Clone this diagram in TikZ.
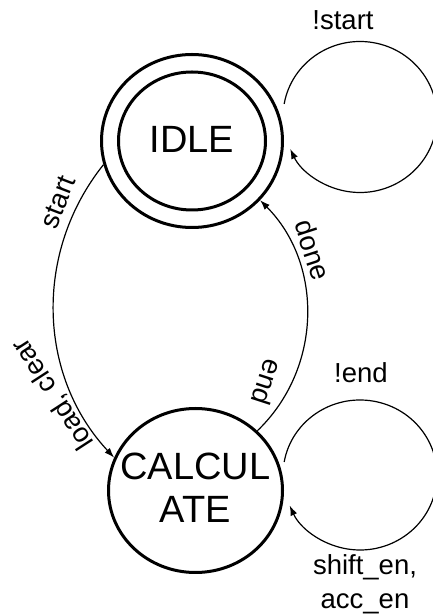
\documentclass[tikz,border=0pt]{standalone}
\usepackage{fontspec}
\setmainfont{Liberation Sans}
\usetikzlibrary{shapes.geometric,arrows.meta}

\begin{document}
\begin{tikzpicture}[
  x=1pt, y=1pt,
  statebox/.style={draw, ellipse, line width=3pt, inner sep=0pt},
  statename/.style={font=\fontsize{38}{43}\selectfont, align=center, inner sep=0pt},
  lbl/.style={font=\fontsize{27.5}{33}\selectfont, inner sep=0pt, align=center},
  trans/.style={line width=1.2pt, -{Latex[length=10pt,width=7pt]}},
]
\useasboundingbox (0,0) rectangle (433,616);

% states
\node[statebox, minimum width=181pt, minimum height=173pt] (idle) at (192,475) {};
\node[statebox, minimum width=147pt, minimum height=138pt] (idlein) at (192,475) {};
\node[statename] (idletext) at (192,477) {IDLE};
\node[statebox, minimum width=174pt, minimum height=164pt] (calc) at (195.5,125.5) {};
\node[statename] (calctext) at (195.5,128) {CALCUL\\ATE};

% transitions between the two states (near-circular arcs)
\draw[trans] (idle.195) .. controls +(231.4:112pt) and +(133:112pt) .. (calc.158);
\draw[trans] (calc.44) .. controls +(43.8:90pt) and +(-45.2:90pt) .. (idle.-41);

% self loops
\coordinate (idleloop) at (360,499);
\coordinate (calcloop) at (360,141);
\draw[trans] (idleloop) ++(170:77pt and 75.5pt)
  arc[start angle=170, end angle=-155, x radius=77pt, y radius=75.5pt];
\draw[trans] (calcloop) ++(170:77pt and 75pt)
  arc[start angle=170, end angle=-156, x radius=77pt, y radius=75pt];

% transition labels
\node[lbl, anchor=base] (lnstart) at (343,586) {!start};
\node[lbl, anchor=base] (lnend) at (361,233) {!end};
\node[lbl, anchor=base] (lshift) at (365,8) {shift\_en,\\acc\_en};
\node[lbl, rotate=69] (lstart) at (58,414) {start};
\node[lbl, rotate=123] (lload) at (53,222) {load, clear};
\node[lbl, rotate=-72] (ldone) at (313,366) {done};
\node[lbl, rotate=-108] (lend) at (267.5,233.5) {end};
\end{tikzpicture}
\end{document}
